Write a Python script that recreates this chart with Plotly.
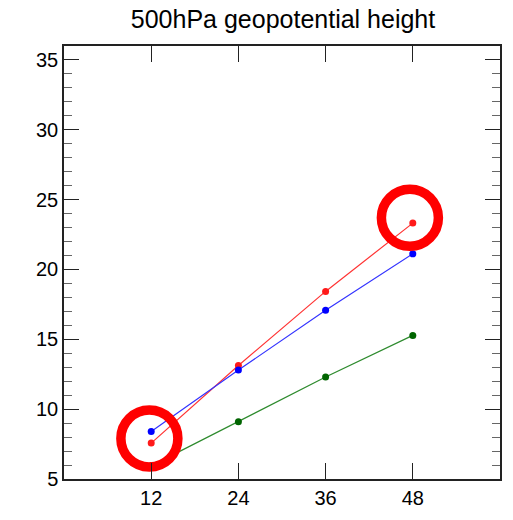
import plotly.graph_objects as go

# Data (forecast hour vs value)
hours = [12, 24, 36, 48]
red_vals = [7.57, 13.13, 18.43, 23.32]
blue_vals = [8.40, 12.80, 17.08, 21.12]
green_vals = [5.94, 9.09, 12.30, 15.28]

# Highlight rings
ring_x = [11.75, 47.6]
ring_y = [7.9, 23.7]

title = "500hPa geopotential height"
x_ticks = [12, 24, 36, 48]
y_ticks = [5, 10, 15, 20, 25, 30, 35]

fig = go.Figure()

series = [
    (red_vals, "#ff3333", "#ff1a1a"),
    (blue_vals, "#3333ff", "#0000ff"),
    (green_vals, "#2e8b2e", "#006400"),
]
for vals, lc, mc in series:
    fig.add_trace(go.Scatter(
        x=hours, y=vals, mode="lines+markers",
        line=dict(color=lc, width=1.2),
        marker=dict(color=mc, size=7),
        showlegend=False, hoverinfo="skip",
    ))

fig.add_trace(go.Scatter(
    x=ring_x, y=ring_y, mode="markers",
    marker=dict(symbol="circle-open", size=57, color="#ff0000",
                line=dict(color="#ff0000", width=9.5)),
    showlegend=False, hoverinfo="skip",
))

font_family = "Liberation Sans, Arial, Helvetica, sans-serif"

fig.update_layout(
    width=513, height=520,
    margin=dict(l=64, r=11, t=46, b=36),
    paper_bgcolor="white", plot_bgcolor="white",
    title=dict(text=title, x=283 / 513, xanchor="center",
               y=1 - 19 / 520, yanchor="middle",
               font=dict(family=font_family, size=25, color="black")),
    font=dict(family=font_family, size=20, color="black"),
)

fig.update_xaxes(
    range=[0, 60], tickvals=x_ticks, ticktext=[str(v) for v in x_ticks],
    ticks="inside", ticklen=16, tickwidth=1.2, tickcolor="#222",
    showline=True, linecolor="#222", linewidth=1.5, mirror="ticks",
    showgrid=False, zeroline=False,
    tickfont=dict(family=font_family, size=20, color="black"),
)
fig.update_yaxes(
    range=[5, 36], tickvals=y_ticks, ticktext=[str(v) for v in y_ticks],
    ticks="inside", ticklen=15, tickwidth=1.2, tickcolor="#222",
    showline=True, linecolor="#222", linewidth=1.5, mirror="ticks",
    showgrid=False, zeroline=False,
    minor=dict(dtick=1, ticks="inside", ticklen=8, tickwidth=1, tickcolor="#666", showgrid=False),
    tickfont=dict(family=font_family, size=20, color="black"),
)

fig.write_html("out.html")
